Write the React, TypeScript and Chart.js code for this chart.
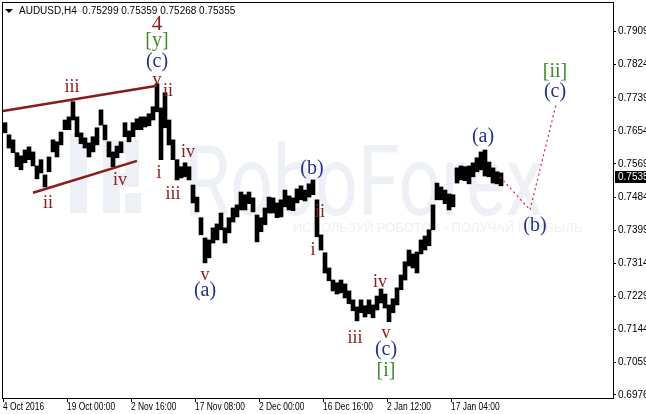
import React, { useEffect, useRef } from 'react';
import { Chart, registerables } from 'chart.js';

Chart.register(...registerables);

// ---------- data ----------
const headerText = 'AUDUSD,H4  0.75299 0.75359 0.75268 0.75355';
const lastPrice = 0.75355;
const lastPriceLabel = '0.7535';

// one sample = 4 consecutive H4 bars (high / low of the group)
const highs = [
  0.7675, 0.7644, 0.7631, 0.7598, 0.759, 0.7605, 0.7613, 0.76, 0.7564, 0.758,
  0.7541, 0.7587, 0.7631, 0.7626, 0.7651, 0.7682, 0.769, 0.7729, 0.769, 0.7649,
  0.7636, 0.7623, 0.7639, 0.7662, 0.7708, 0.7669, 0.7626, 0.76, 0.7615, 0.7626,
  0.7675, 0.7654, 0.7675, 0.7685, 0.769, 0.769, 0.7698, 0.7716, 0.7775, 0.7713,
  0.7752, 0.7682, 0.7631, 0.758, 0.7562, 0.7572, 0.7562, 0.7515, 0.7484, 0.7431,
  0.7379, 0.7374, 0.7405, 0.7415, 0.7443, 0.7405, 0.7431, 0.7456, 0.7464, 0.7497,
  0.749, 0.7497, 0.7482, 0.7438, 0.7431, 0.7456, 0.7484, 0.7482, 0.7469, 0.7477,
  0.7502, 0.7487, 0.7482, 0.7505, 0.7513, 0.7502, 0.7518, 0.7528, 0.7477, 0.7387,
  0.7341, 0.7302, 0.7271, 0.7264, 0.7271, 0.7261, 0.7243, 0.722, 0.7202, 0.722,
  0.7205, 0.722, 0.7207, 0.723, 0.7248, 0.7235, 0.7207, 0.7223, 0.7251, 0.7284,
  0.7318, 0.7348, 0.7338, 0.7343, 0.7374, 0.7384, 0.74, 0.7464, 0.752, 0.751,
  0.7502, 0.7492, 0.749, 0.7559, 0.7564, 0.7562, 0.7564, 0.7572, 0.7585, 0.76,
  0.7605, 0.7574, 0.7559, 0.7549, 0.7546,
];
const lows = [
  0.7649, 0.761, 0.7598, 0.7562, 0.7554, 0.7572, 0.758, 0.7564, 0.7531, 0.7546,
  0.751, 0.7549, 0.76, 0.7587, 0.7618, 0.7657, 0.7657, 0.7682, 0.7639, 0.7621,
  0.761, 0.7587, 0.76, 0.7618, 0.7669, 0.7631, 0.7587, 0.7562, 0.7585, 0.7598,
  0.7639, 0.7626, 0.7639, 0.7657, 0.7657, 0.7664, 0.7667, 0.7682, 0.7703, 0.758,
  0.7662, 0.7618, 0.758, 0.7528, 0.7533, 0.7536, 0.7528, 0.7469, 0.7446, 0.7387,
  0.7315, 0.7328, 0.7366, 0.7374, 0.74, 0.7366, 0.7392, 0.742, 0.7433, 0.7451,
  0.7451, 0.7467, 0.7446, 0.7369, 0.7395, 0.7413, 0.7443, 0.7443, 0.7431, 0.7433,
  0.7459, 0.7451, 0.7449, 0.7469, 0.7477, 0.7474, 0.7484, 0.749, 0.7382, 0.7348,
  0.7289, 0.7269, 0.7243, 0.7235, 0.7238, 0.7225, 0.721, 0.7192, 0.7166, 0.7187,
  0.7176, 0.7184, 0.7174, 0.7194, 0.7212, 0.7199, 0.7164, 0.7187, 0.7207, 0.7246,
  0.7271, 0.7307, 0.7302, 0.7289, 0.7338, 0.7348, 0.7359, 0.74, 0.7477, 0.7477,
  0.7467, 0.7451, 0.7459, 0.752, 0.7528, 0.7526, 0.7518, 0.7536, 0.7549, 0.7554,
  0.7538, 0.7536, 0.752, 0.7518, 0.7513,
];
const barsPerSample = 4;

// time axis (H4 bar index)
const dateTickBars = [1, 65, 129, 193, 257, 321, 385, 449];
const dateTickLabels = [
  '4 Oct 2016', '19 Oct 00:00', '2 Nov 16:00', '17 Nov 08:00',
  '2 Dec 00:00', '16 Dec 16:00', '2 Jan 12:00', '17 Jan 04:00',
];
const priceTicks = [
  0.7909, 0.7824, 0.7739, 0.7654, 0.7569, 0.7484, 0.7399, 0.7314, 0.7229,
  0.7144, 0.7059, 0.6976,
];

// wedge trend lines and the forecast path (bar index, price)
const wedgeUpper = [{ x: 1, y: 0.7705 }, { x: 155, y: 0.777 }];
const wedgeLower = [{ x: 31, y: 0.7495 }, { x: 135, y: 0.7577 }];
const forecastPath = [{ x: 498, y: 0.7536 }, { x: 528, y: 0.7451 }, { x: 554, y: 0.7721 }];

// wave labels: [text, bar index, price, degree]
type Kind = 'top' | 'minor' | 'inter' | 'major';
type Wave = [string, number, number, Kind];
const waveLabels: Wave[] = [
  ['4', 155, 0.7926, 'top'],
  ['[y]', 155, 0.7885, 'major'],
  ['(c)', 155, 0.7831, 'inter'],
  ['v', 155, 0.7785, 'minor'],
  ['ii', 166, 0.7757, 'minor'],
  ['iii', 70, 0.7765, 'minor'],
  ['ii', 46, 0.7469, 'minor'],
  ['iv', 118, 0.7526, 'minor'],
  ['i', 157, 0.7544, 'minor'],
  ['iii', 171, 0.749, 'minor'],
  ['iv', 186, 0.7598, 'minor'],
  ['v', 203, 0.7284, 'minor'],
  ['(a)', 203, 0.7243, 'inter'],
  ['(b)', 310, 0.7556, 'inter'],
  ['ii', 318, 0.7446, 'minor'],
  ['i', 311, 0.7348, 'minor'],
  ['iii', 353, 0.7122, 'minor'],
  ['iv', 378, 0.7264, 'minor'],
  ['v', 384, 0.7135, 'minor'],
  ['(c)', 384, 0.7092, 'inter'],
  ['[i]', 384, 0.7038, 'major'],
  ['(a)', 481, 0.7639, 'inter'],
  ['(b)', 533, 0.741, 'inter'],
  ['[ii]', 553, 0.7806, 'major'],
  ['(c)', 553, 0.7754, 'inter'],
];

const waveColor: Record<Kind, string> = { top: '#8E1B1B', minor: '#8E1B1B', inter: '#25318A', major: '#3F8A2A' };
const waveSize: Record<Kind, number> = { top: 21, minor: 18, inter: 20, major: 20 };

const AXIS_FONT = "'Liberation Sans', Arial, sans-serif";
const SERIF = "'Liberation Serif', 'Times New Roman', serif";

const overlayPlugin = {
  id: 'overlay',
  beforeDatasetsDraw(chart: any) {
    const { ctx, chartArea: a } = chart;
    ctx.save();
    ctx.beginPath();
    ctx.rect(a.left, a.top, a.right - a.left, a.bottom - a.top);
    ctx.clip();
    ctx.fillStyle = '#EDF0F5';
    // logo blocks
    ctx.fillRect(70, 133, 17, 80);
    ctx.fillRect(103, 140, 36, 14);
    ctx.fillRect(125, 140, 14, 47);
    ctx.fillRect(103, 173, 36, 14);
    ctx.fillRect(103, 140, 17, 73);
    ctx.fillRect(125, 193, 16, 20);
    // wordmark
    ctx.save();
    ctx.font = '75px Roboto';
    ctx.textAlign = 'left';
    ctx.textBaseline = 'alphabetic';
    ctx.translate(184, 215);
    ctx.scale(1, 1.3);
    ctx.fillText('RoboForex', 0, 0);
    ctx.restore();
    ctx.fillStyle = '#EEF0F4';
    ctx.font = "13px 'Liberation Sans'";
    ctx.textBaseline = 'middle';
    ctx.fillText('ИСПОЛЬЗУЙ РОБОТОВ - ПОЛУЧАЙ ПРИБЫЛЬ', 293, 228);
    ctx.restore();
  },
  afterDatasetsDraw(chart: any) {
    const { ctx } = chart;
    const xs = chart.scales.x;
    const ys = chart.scales.y;
    ctx.save();
    ctx.textAlign = 'center';
    ctx.textBaseline = 'middle';
    for (const [text, bar, price, kind] of waveLabels) {
      ctx.font = `${waveSize[kind]}px ${SERIF}`;
      ctx.fillStyle = waveColor[kind];
      ctx.fillText(text, xs.getPixelForValue(bar), ys.getPixelForValue(price));
    }
    ctx.restore();
  },
  afterDraw(chart: any) {
    const { ctx, chartArea: a } = chart;
    const xs = chart.scales.x;
    ctx.save();
    ctx.strokeStyle = '#000';
    ctx.lineWidth = 1;
    ctx.strokeRect(a.left + 0.5, a.top + 0.5, a.right - a.left, a.bottom - a.top);
    // date labels (narrow, like the terminal font)
    ctx.fillStyle = '#000';
    ctx.font = `10px ${AXIS_FONT}`;
    ctx.textAlign = 'left';
    ctx.textBaseline = 'top';
    dateTickBars.forEach((b, i) => {
      const px = Math.round(xs.getPixelForValue(b));
      ctx.save();
      ctx.translate(px, a.bottom + 4);
      ctx.scale(0.84, 1);
      ctx.fillText(dateTickLabels[i], 0, 0);
      ctx.restore();
    });
    // header
    ctx.beginPath();
    ctx.moveTo(5, 9);
    ctx.lineTo(13, 9);
    ctx.lineTo(9, 13);
    ctx.closePath();
    ctx.fill();
    ctx.font = "10px 'Liberation Sans'";
    ctx.textBaseline = 'middle';
    ctx.fillText(headerText, 19, 11.5);
    // last price box
    const yp = Math.round(chart.scales.y.getPixelForValue(lastPrice));
    ctx.fillRect(a.right + 2, yp - 6, 40, 12);
    ctx.fillStyle = '#fff';
    ctx.font = `10px ${AXIS_FONT}`;
    ctx.fillText(lastPriceLabel, a.right + 5, yp);
    ctx.restore();
  },
};

function zeroPad(s: any) {
  s.paddingLeft = 0;
  s.paddingRight = 0;
  s.paddingTop = 0;
  s.paddingBottom = 0;
}

export default function App() {
  const ref = useRef<HTMLCanvasElement>(null);
  useEffect(() => {
    const canvas = ref.current!;
    const bars = highs.map((h, i) => ({ x: i * barsPerSample + 3, y: [lows[i], h] }));
    const lineBase = { type: 'line', pointRadius: 0, fill: false, order: 0, tension: 0 };
    const chart = new Chart(canvas, {
      type: 'bar',
      data: {
        datasets: [
          { ...lineBase, data: wedgeUpper, borderColor: '#8B1A1A', borderWidth: 2.5 } as any,
          { ...lineBase, data: wedgeLower, borderColor: '#8B1A1A', borderWidth: 2.5 } as any,
          { ...lineBase, data: forecastPath, borderColor: '#E0174F', borderWidth: 1.2, borderDash: [2, 3] } as any,
          {
            type: 'bar',
            data: bars as any,
            backgroundColor: '#000',
            borderWidth: 0,
            barThickness: 4,
            grouped: false,
            order: 1,
          } as any,
        ],
      },
      options: {
        animation: false,
        responsive: false,
        devicePixelRatio: 1,
        events: [],
        layout: { padding: { left: 2, top: 2, right: 0, bottom: 0 } },
        plugins: { legend: { display: false }, tooltip: { enabled: false } },
        scales: {
          x: {
            type: 'linear',
            position: 'bottom',
            offset: false,
            min: 0,
            max: 611,
            afterFit: (s: any) => { s.height = 16; zeroPad(s); },
            afterBuildTicks: (s: any) => { s.ticks = dateTickBars.map((v) => ({ value: v })); },
            ticks: { display: false, autoSkip: false, maxRotation: 0, minRotation: 0 },
            grid: { offset: false, drawOnChartArea: false, drawTicks: true, tickLength: 4, color: '#000' },
            border: { display: true, color: '#000' },
          } as any,
          y: {
            type: 'linear',
            position: 'right',
            min: 0.6968,
            max: 0.7985,
            afterFit: (s: any) => { s.width = 33; zeroPad(s); },
            afterBuildTicks: (s: any) => { s.ticks = priceTicks.map((v) => ({ value: v })); },
            ticks: {
              padding: 2,
              color: '#000',
              font: { family: AXIS_FONT, size: 10 },
              callback: (v: any) => Number(v).toFixed(4),
            },
            grid: { drawOnChartArea: false, drawTicks: true, tickLength: 3, color: '#000' },
            border: { display: true, color: '#000' },
          } as any,
        },
      },
      plugins: [overlayPlugin],
    } as any);
    return () => chart.destroy();
  }, []);
  return (
    <div style={{ position: 'fixed', left: 0, top: 0, width: 646, height: 414, background: '#fff' }}>
      <canvas ref={ref} width={646} height={414} style={{ display: 'block', width: 646, height: 414 }} />
    </div>
  );
}
